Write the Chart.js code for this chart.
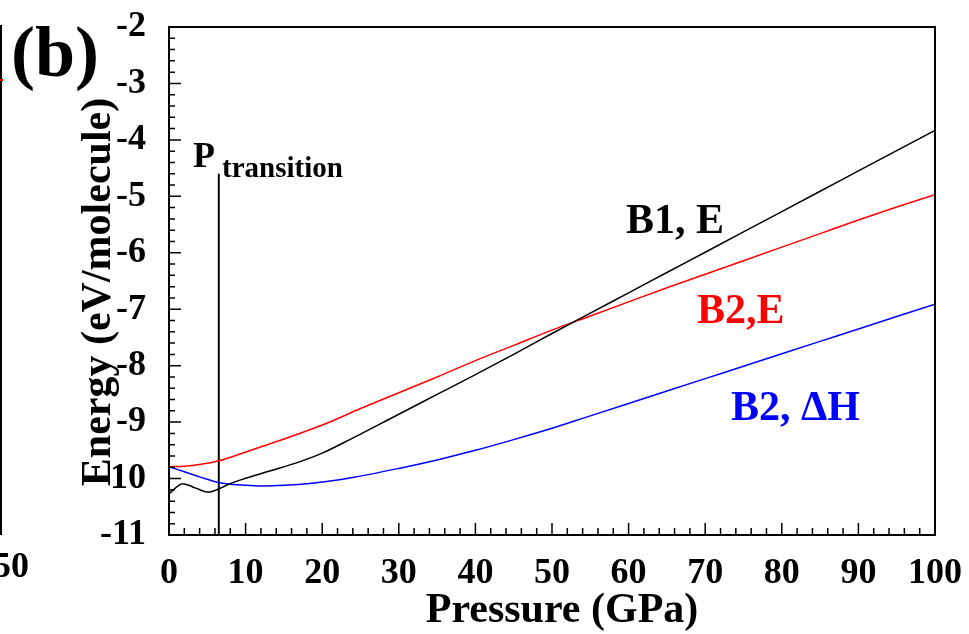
<!DOCTYPE html>
<html>
<head>
<meta charset="utf-8">
<script src="https://cdn.jsdelivr.net/npm/chart.js@4"></script>
<style>
  html, body { margin: 0; padding: 0; background: #fff; }
  #wrap { width: 969px; height: 634px; }
</style>
</head>
<body>
<div id="wrap"><canvas id="myChart" width="969" height="634"></canvas></div>
<script>
// pressure (GPa) and energies (eV/molecule)
const b1Pressure = [0, 1.8, 3.5, 5.1, 6.4, 8, 9.9, 12.8, 17.1, 20, 23.6, 30, 35, 40, 45, 50, 55, 60, 65, 70, 75, 80, 85, 90, 95, 100];
const b1Energy   = [-10.27, -10.09, -10.17, -10.24, -10.19, -10.09, -10.0, -9.88, -9.70, -9.55, -9.31, -8.86, -8.51, -8.16, -7.80, -7.43, -7.07, -6.71, -6.35, -5.99, -5.63, -5.27, -4.91, -4.55, -4.19, -3.83];

const b2Pressure = [0, 2, 4, 6.4, 10, 15, 20.6, 25, 30, 35, 40, 45, 50, 55, 60, 65, 70, 75, 80, 85, 90, 95, 100];
const b2Energy   = [-9.79, -9.78, -9.75, -9.69, -9.53, -9.30, -9.02, -8.76, -8.48, -8.20, -7.91, -7.64, -7.37, -7.12, -6.87, -6.62, -6.38, -6.14, -5.90, -5.66, -5.42, -5.19, -4.97];

const b2HPressure = [0, 2, 4, 6.4, 8, 10, 12, 15, 18, 20, 23.6, 30, 35, 40, 45, 50, 55, 60, 65, 70, 75, 80, 85, 90, 95, 100];
const b2Enthalpy  = [-9.79, -9.88, -9.97, -10.07, -10.10, -10.12, -10.13, -10.12, -10.09, -10.06, -9.99, -9.82, -9.67, -9.50, -9.31, -9.11, -8.89, -8.67, -8.45, -8.23, -8.01, -7.79, -7.57, -7.35, -7.13, -6.91];

// transition pressure marker
const transitionPressure = [6.5, 6.5];
const transitionEnergy   = [-11, -4.6];

const xTicks = [0, 10, 20, 30, 40, 50, 60, 70, 80, 90, 100];
const yTicks = [-11, -10, -9, -8, -7, -6, -5, -4, -3, -2];

const serif = '"Liberation Serif", "Times New Roman", serif';

function pts(xs, ys) {
    return xs.map((x, i) => ({ x: x, y: ys[i] }));
}

const framePlugin = {
    id: 'frame',
    afterDraw(chart) {
        const ctx = chart.ctx;
        const a = chart.chartArea;
        const xs = chart.scales.x;
        const ys = chart.scales.y;
        ctx.save();

        // box
        ctx.strokeStyle = '#000';
        ctx.lineWidth = 2;
        ctx.strokeRect(a.left, a.top, a.right - a.left, a.bottom - a.top);

        // inward ticks, bottom and left only
        ctx.lineWidth = 1.5;
        ctx.beginPath();
        for (let v = 0; v <= 100; v += 2) {
            const px = xs.getPixelForValue(v);
            const len = v % 10 === 0 ? 12 : 7;
            ctx.moveTo(px, a.bottom);
            ctx.lineTo(px, a.bottom - len);
        }
        for (let k = 0; k <= 45; k++) {
            const v = -11 + k * 0.2;
            const py = ys.getPixelForValue(v);
            const len = k % 5 === 0 ? 12 : 6;
            ctx.moveTo(a.left, py);
            ctx.lineTo(a.left + len, py);
        }
        ctx.stroke();

        // axis titles
        ctx.fillStyle = '#000';
        ctx.font = 'bold 42px ' + serif;
        ctx.textAlign = 'center';
        ctx.textBaseline = 'alphabetic';
        ctx.fillText('Pressure (GPa)', 562, 622);
        ctx.save();
        ctx.translate(110, 292);
        ctx.rotate(-Math.PI / 2);
        ctx.fillText('Energy (eV/molecule)', 0, 0);
        ctx.restore();

        // panel letter
        ctx.textAlign = 'left';
        ctx.font = 'bold 72px ' + serif;
        ctx.fillText('(b)', 11, 76);

        // curve labels
        ctx.font = 'bold 42px ' + serif;
        ctx.fillStyle = '#000';
        ctx.fillText('B1, E', 626, 233);
        ctx.fillStyle = '#ff0000';
        ctx.fillText('B2,E', 697, 323);
        ctx.fillStyle = '#0000ff';
        ctx.fillText('B2, \u0394H', 731, 420);

        // P_transition
        ctx.fillStyle = '#000';
        ctx.font = 'bold 36px ' + serif;
        ctx.fillText('P', 193, 167);
        ctx.font = 'bold 29px ' + serif;
        ctx.fillText('transition', 222, 177);

        // edge of neighbouring panel
        ctx.lineWidth = 2;
        ctx.strokeStyle = '#000';
        ctx.beginPath();
        ctx.moveTo(1, 25);
        ctx.lineTo(1, a.bottom);
        ctx.stroke();
        ctx.strokeStyle = '#ff0000';
        ctx.beginPath();
        ctx.moveTo(0, 80);
        ctx.lineTo(3, 80);
        ctx.stroke();
        ctx.fillStyle = '#000';
        ctx.font = 'bold 36px ' + serif;
        ctx.textAlign = 'right';
        ctx.textBaseline = 'middle';
        ctx.fillText('50', 29, 568);

        ctx.restore();
    }
};

const data = {
    datasets: [
        { label: 'B1, E', data: pts(b1Pressure, b1Energy), borderColor: '#000000', borderWidth: 1.5, cubicInterpolationMode: 'monotone' },
        { label: 'B2, E', data: pts(b2Pressure, b2Energy), borderColor: '#ff0000', borderWidth: 1.5, cubicInterpolationMode: 'monotone' },
        { label: 'B2, dH', data: pts(b2HPressure, b2Enthalpy), borderColor: '#0000ff', borderWidth: 1.5, cubicInterpolationMode: 'monotone' },
        { label: 'P transition', data: pts(transitionPressure, transitionEnergy), borderColor: '#000000', borderWidth: 2 }
    ]
};

const config = {
    type: 'line',
    data: data,
    options: {
        responsive: false,
        animation: false,
        // plot box at left 169, top 27, right 935, bottom 535
        layout: { padding: { left: 0, right: 34, top: 27, bottom: 0 } },
        elements: { point: { radius: 0 } },
        plugins: { legend: { display: false }, tooltip: { enabled: false } },
        scales: {
            x: {
                type: 'linear', min: 0, max: 100,
                grid: { display: false },
                border: { display: false },
                afterBuildTicks: (s) => { s.ticks = xTicks.map(v => ({ value: v })); },
                afterFit: (s) => { s.height = 99; s.paddingLeft = 0; s.paddingRight = 0; },
                ticks: { color: '#000', padding: 9, maxRotation: 0, font: { family: serif, weight: 'bold', size: 36 } }
            },
            y: {
                type: 'linear', min: -11, max: -2,
                grid: { display: false },
                border: { display: false },
                afterBuildTicks: (s) => { s.ticks = yTicks.map(v => ({ value: v })); },
                afterFit: (s) => { s.width = 169; s.paddingTop = 0; s.paddingBottom = 0; },
                ticks: { color: '#000', padding: 15, font: { family: serif, weight: 'bold', size: 36 } }
            }
        }
    },
    plugins: [framePlugin]
};

const myChart = new Chart(document.getElementById('myChart').getContext('2d'), config);
</script>
</body>
</html>
